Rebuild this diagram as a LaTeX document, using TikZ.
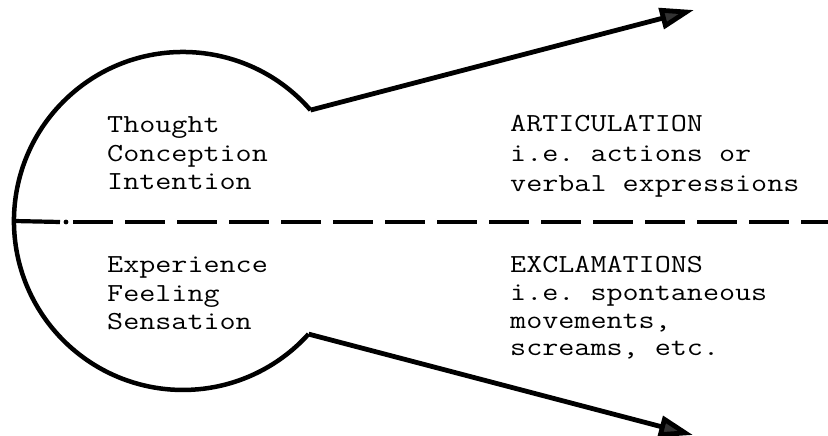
\documentclass[tikz,border=0pt]{standalone}
\usepackage{fontspec}
\setmonofont[FakeStretch=1.2]{Latin Modern Mono}
\usetikzlibrary{arrows.meta}
\begin{document}
\begin{tikzpicture}[x=1pt,y=1pt,
  outline/.style={line width=4.5pt, line join=round},
  arrowline/.style={line width=4.8pt, -{Triangle[length=34pt,width=21pt,fill=black!80]}},
  divider/.style={line width=4.2pt, dash pattern=on 40pt off 12pt},
  label/.style={font=\ttfamily\fontsize{26}{28.5}\selectfont, align=left, anchor=base west, inner sep=0pt}]
\useasboundingbox (0,0) rectangle (828,436);
% key points
\coordinate (center) at (183,215);
\coordinate (notchT) at (310.5,325.9);
\coordinate (notchB) at (308.6,101.9);
\coordinate (arcL) at (14,215);
\coordinate (tipT) at (694,426);
\coordinate (tipB) at (693,1);
\coordinate (dashS) at (60,214);
\coordinate (dotP) at (66,214);
\coordinate (dashA) at (73,214);
\coordinate (dashE) at (828,214);
% bulb outline
\draw[outline] (notchT) arc[start angle=41, end angle=318, radius=169];
% arrows
\draw[arrowline] (notchT) -- (tipT);
\draw[arrowline] (notchB) -- (tipB);
% divider
\draw[line width=4.2pt] (arcL) -- (dashS);
\fill (dotP) circle (2.4pt);
\draw[divider] (dashA) -- (dashE);
% texts (anchored at the baseline of the last line)
\node[label] (upL) at (107,246) {Thought\\Conception\\Intention};
\node[label] (loL) at (107,106) {Experience\\Feeling\\Sensation};
\node[label, font=\ttfamily\fontsize{26}{30}\selectfont] (upR) at (510,244) {ARTICULATION\\i.e. actions or\\verbal expressions};
\node[label, font=\ttfamily\fontsize{26}{27.7}\selectfont] (loR) at (510,80) {EXCLAMATIONS\\i.e. spontaneous\\movements,\\screams, etc.};
\end{tikzpicture}
\end{document}
